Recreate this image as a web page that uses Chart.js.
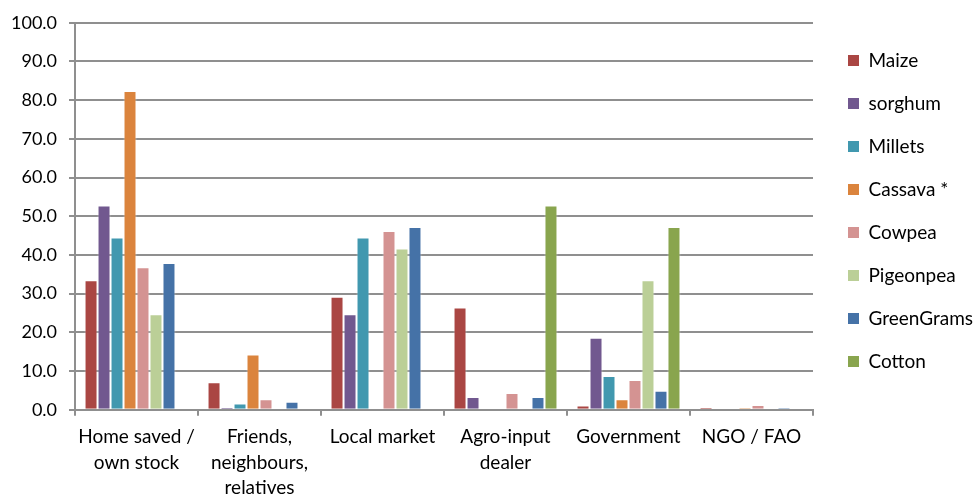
<!DOCTYPE html>
<html>
<head>
<meta charset="utf-8">
<script src="https://cdn.jsdelivr.net/npm/chart.js@4.4.1/dist/chart.umd.min.js"></script>
<style>
  html, body { margin: 0; padding: 0; background: #ffffff; }
  #wrap { width: 975px; height: 497px; }
</style>
</head>
<body>
<div id="wrap"><canvas id="chart" width="975" height="497"></canvas></div>
<script>
// Seed sources (x categories)
const categories = [
  ['Home saved /', 'own stock'],
  ['Friends,', 'neighbours,', 'relatives'],
  'Local market',
  ['Agro-input', 'dealer'],
  'Government',
  'NGO / FAO'
];

// Share of farmers (%) per crop and seed source
const maize      = [33.5, 7.1, 29.2, 26.4, 1.1, 0.6];
const sorghum    = [52.8, 0.6, 24.7, 3.3, 18.6, 0.0];
const millets    = [44.5, 1.6, 44.5, 0.0, 8.7, 0.0];
const cassava    = [82.4, 14.3, 0.0, 0.0, 2.7, 0.5];
const cowpea     = [36.8, 2.7, 46.2, 4.3, 7.7, 1.2];
const pigeonpea  = [24.7, 0.0, 41.7, 0.0, 33.5, 0.0];
const greenGrams = [37.9, 2.1, 47.2, 3.3, 4.9, 0.5];
const cotton     = [0.0, 0.0, 0.0, 52.8, 47.2, 0.0];

const seriesNames = ['Maize', 'sorghum', 'Millets', 'Cassava *', 'Cowpea', 'Pigeonpea', 'GreenGrams', 'Cotton'];
const seriesValues = [maize, sorghum, millets, cassava, cowpea, pigeonpea, greenGrams, cotton];
const seriesColors = ['#AA4643', '#71588F', '#4198AF', '#DB843D', '#D49392', '#BBCF97', '#4572A7', '#89A54E'];

// Y axis range and tick step
const yMin = 0;
const yMax = 100;
const yStep = 10;

const FONT = 'Lato, "Open Sans", sans-serif';
const GRID = '#8f8f8f';

new Chart(document.getElementById('chart'), {
  type: 'bar',
  data: {
    labels: categories,
    datasets: seriesNames.map((name, i) => ({
      label: name,
      data: seriesValues[i],
      backgroundColor: seriesColors[i],
      borderColor: 'rgba(255,255,255,0.45)',
      borderWidth: 1,
      barPercentage: 1.0,
      categoryPercentage: 0.845
    }))
  },
  options: {
    responsive: false,
    animation: false,
    devicePixelRatio: 1,
    layout: { padding: { top: 12, right: -8, left: -1, bottom: -12 } },
    plugins: {
      tooltip: { enabled: false },
      legend: {
        position: 'right',
        align: 'start',
        title: { display: true, text: ' ', font: { size: 10 }, padding: { top: 3, bottom: 0 } },
        labels: {
          boxWidth: 11,
          boxHeight: 11,
          padding: 24,
          color: '#000',
          font: { family: FONT, size: 19 },
          generateLabels: chart => Chart.defaults.plugins.legend.labels.generateLabels(chart)
            .map(item => Object.assign(item, { lineWidth: 0 }))
        }
      }
    },
    scales: {
      x: {
        offset: true,
        grid: {
          offset: true,
          drawOnChartArea: false,
          drawTicks: true,
          tickLength: 6,
          color: GRID,
          lineWidth: 2
        },
        border: { color: GRID, width: 2 },
        ticks: {
          color: '#000',
          maxRotation: 0,
          autoSkip: false,
          padding: 9,
          font: { family: FONT, size: 19, lineHeight: 1.32 }
        }
      },
      y: {
        min: yMin,
        max: yMax,
        grid: {
          color: GRID,
          lineWidth: 2,
          tickLength: 6
        },
        border: { color: GRID, width: 2 },
        ticks: {
          stepSize: yStep,
          color: '#000',
          padding: 12,
          font: { family: FONT, size: 18 },
          callback: v => Number(v).toFixed(1)
        }
      },
      // blank strip separating the plot from the legend
      gap: {
        type: 'linear',
        position: 'right',
        display: true,
        grid: { display: false },
        border: { display: false },
        ticks: { display: false },
        afterFit: s => { s.width = 11; }
      }
    }
  }
});
</script>
</body>
</html>
